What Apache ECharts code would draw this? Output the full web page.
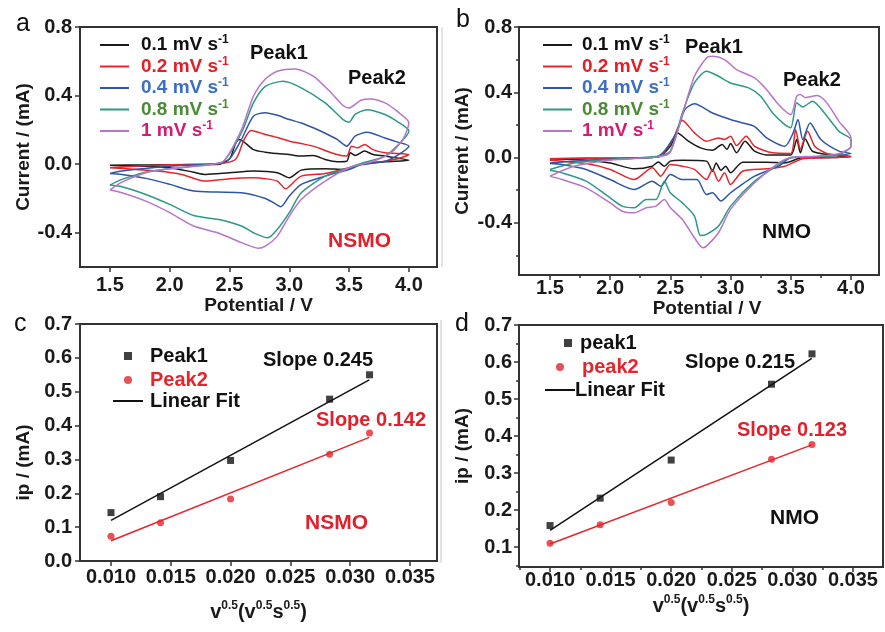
<!DOCTYPE html>
<html>
<head>
<meta charset="utf-8">
<script src="https://cdn.jsdelivr.net/npm/echarts@6/dist/echarts.min.js"></script>
<style>
  html, body { margin: 0; padding: 0; background: #fff; }
  #main { width: 885px; height: 632px; }
</style>
</head>
<body>
<div id="main"></div>
<script>
// scan rates (mV s-1) shared by panels a and b
var rates = ['0.1', '0.2', '0.4', '0.8', '1'];

// panel a, NSMO: [potential V, current mA], anodic sweep then cathodic sweep
var a01 = [[1.5,-0.006],[1.8,-0.005],[2.1,-0.003],[2.4,-0.002],[2.5,0.03],[2.55,0.12],[2.58,0.144],[2.62,0.13],[2.7,0.085],[2.8,0.07],[2.9,0.062],[3.0,0.056],[3.1,0.047],[3.2,0.05],[3.3,0.027],[3.4,0.014],[3.48,0.017],[3.51,0.066],[3.55,0.05],[3.63,0.076],[3.7,0.056],[3.8,0.047],[4.0,0.023],
  [3.8,0.014],[3.6,0.0],[3.45,-0.031],[3.3,-0.027],[3.1,-0.035],[3.0,-0.08],[2.9,-0.05],[2.7,-0.04],[2.5,-0.05],[2.3,-0.06],[2.2,-0.047],[2.0,-0.021],[1.8,-0.012],[1.5,-0.006]];
var a02 = [[1.5,-0.021],[1.7,-0.012],[2.0,-0.004],[2.4,0.002],[2.55,0.027],[2.62,0.14],[2.68,0.196],[2.8,0.173],[2.9,0.155],[3.0,0.134],[3.1,0.12],[3.2,0.105],[3.3,0.08],[3.4,0.056],[3.48,0.047],[3.52,0.105],[3.57,0.095],[3.63,0.115],[3.7,0.085],[3.8,0.066],[4.0,0.056],
  [3.9,0.03],[3.8,0.017],[3.6,0.0],[3.5,-0.021],[3.3,-0.054],[3.1,-0.07],[3.0,-0.13],[2.97,-0.144],[2.9,-0.099],[2.8,-0.085],[2.7,-0.08],[2.5,-0.085],[2.3,-0.099],[2.1,-0.06],[1.9,-0.04],[1.7,-0.03],[1.5,-0.021]];
var a04 = [[1.5,-0.054],[1.6,-0.04],[1.7,-0.031],[2.0,-0.012],[2.4,0.004],[2.5,0.03],[2.6,0.144],[2.7,0.28],[2.8,0.3],[2.9,0.285],[3.0,0.26],[3.1,0.24],[3.2,0.212],[3.3,0.18],[3.4,0.144],[3.48,0.105],[3.55,0.163],[3.65,0.186],[3.8,0.153],[3.9,0.13],[4.0,0.105],
  [3.9,0.05],[3.8,0.017],[3.6,-0.004],[3.5,-0.031],[3.3,-0.07],[3.1,-0.118],[3.0,-0.186],[2.93,-0.248],[2.88,-0.23],[2.8,-0.2],[2.6,-0.167],[2.4,-0.163],[2.2,-0.157],[2.0,-0.118],[1.8,-0.083],[1.6,-0.06],[1.5,-0.054]];
var a08 = [[1.5,-0.122],[1.6,-0.089],[1.8,-0.047],[2.0,-0.027],[2.3,-0.004],[2.45,0.017],[2.6,0.183],[2.7,0.357],[2.8,0.454],[2.95,0.483],[3.1,0.445],[3.3,0.357],[3.45,0.26],[3.5,0.245],[3.55,0.29],[3.65,0.318],[3.8,0.29],[3.9,0.25],[4.0,0.192],
  [3.9,0.105],[3.8,0.047],[3.6,0.004],[3.5,-0.021],[3.3,-0.07],[3.1,-0.167],[3.0,-0.283],[2.9,-0.38],[2.82,-0.43],[2.7,-0.4],[2.6,-0.361],[2.4,-0.322],[2.2,-0.3],[2.0,-0.235],[1.8,-0.177],[1.6,-0.132],[1.5,-0.122]];
var a10 = [[1.5,-0.151],[1.6,-0.105],[1.8,-0.05],[2.0,-0.027],[2.3,-0.006],[2.45,0.017],[2.6,0.202],[2.7,0.396],[2.8,0.497],[2.9,0.542],[3.05,0.555],[3.2,0.513],[3.35,0.416],[3.45,0.342],[3.5,0.328],[3.6,0.373],[3.68,0.38],[3.8,0.357],[3.9,0.309],[4.0,0.241],
  [3.95,0.144],[3.85,0.066],[3.7,0.017],[3.5,-0.021],[3.3,-0.099],[3.1,-0.206],[3.0,-0.303],[2.9,-0.42],[2.8,-0.478],[2.74,-0.49],[2.6,-0.458],[2.4,-0.4],[2.2,-0.361],[2.0,-0.283],[1.8,-0.216],[1.6,-0.167],[1.5,-0.151]];

// panel b, NMO
var b01 = [[1.5,-0.008],[1.8,-0.005],[2.1,-0.004],[2.4,0.004],[2.5,0.069],[2.56,0.151],[2.65,0.1],[2.75,0.059],[2.85,0.045],[2.93,0.08],[2.97,0.05],[3.0,0.086],[3.05,0.029],[3.12,0.1],[3.2,0.039],[3.3,0.016],[3.5,0.016],[3.55,0.11],[3.58,0.029],[3.62,0.114],[3.68,0.039],[3.8,0.018],[4.0,0.004],
  [3.8,0.0],[3.6,0.0],[3.45,-0.033],[3.3,-0.029],[3.1,-0.029],[3.0,-0.094],[2.96,-0.053],[2.92,-0.078],[2.88,-0.033],[2.85,-0.084],[2.8,-0.022],[2.6,-0.016],[2.5,-0.022],[2.45,-0.053],[2.4,-0.027],[2.35,-0.053],[2.2,-0.069],[2.0,-0.033],[1.8,-0.016],[1.5,-0.008]];
var b02 = [[1.5,-0.008],[1.8,-0.005],[2.1,-0.003],[2.4,0.004],[2.52,0.11],[2.6,0.229],[2.7,0.151],[2.8,0.1],[2.9,0.12],[2.95,0.11],[3.0,0.131],[3.05,0.073],[3.13,0.131],[3.2,0.069],[3.35,0.029],[3.5,0.025],[3.54,0.171],[3.58,0.053],[3.64,0.161],[3.7,0.069],[3.8,0.025],[4.0,0.008],
  [3.8,-0.002],[3.6,-0.008],[3.45,-0.053],[3.3,-0.069],[3.1,-0.084],[3.0,-0.165],[2.95,-0.094],[2.9,-0.145],[2.85,-0.073],[2.8,-0.135],[2.7,-0.073],[2.6,-0.053],[2.5,-0.043],[2.42,-0.114],[2.35,-0.063],[2.2,-0.135],[2.0,-0.073],[1.8,-0.037],[1.5,-0.016]];
var b04 = [[1.5,-0.033],[1.8,-0.016],[2.2,-0.004],[2.4,0.008],[2.55,0.151],[2.62,0.294],[2.7,0.33],[2.85,0.273],[3.0,0.233],[3.1,0.212],[3.2,0.19],[3.3,0.12],[3.45,0.069],[3.52,0.151],[3.56,0.233],[3.6,0.11],[3.66,0.212],[3.75,0.11],[3.9,0.039],[4.0,0.024],
  [3.7,0.004],[3.5,-0.002],[3.4,-0.053],[3.2,-0.114],[3.0,-0.216],[2.92,-0.267],[2.85,-0.216],[2.8,-0.227],[2.72,-0.135],[2.6,-0.135],[2.5,-0.104],[2.42,-0.176],[2.35,-0.145],[2.2,-0.196],[2.0,-0.135],[1.8,-0.073],[1.6,-0.043],[1.5,-0.037]];
var b08 = [[1.5,-0.073],[1.7,-0.033],[2.0,-0.012],[2.4,0.008],[2.5,0.039],[2.6,0.273],[2.7,0.457],[2.8,0.529],[2.9,0.498],[3.0,0.457],[3.15,0.427],[3.25,0.376],[3.35,0.273],[3.45,0.202],[3.5,0.182],[3.55,0.335],[3.6,0.31],[3.68,0.345],[3.78,0.273],[3.9,0.161],[4.0,0.11],
  [4.0,0.069],[3.9,0.018],[3.7,0.004],[3.5,0.0],[3.4,-0.043],[3.2,-0.145],[3.0,-0.298],[2.9,-0.42],[2.8,-0.471],[2.75,-0.478],[2.7,-0.359],[2.6,-0.278],[2.5,-0.216],[2.45,-0.145],[2.38,-0.257],[2.3,-0.257],[2.2,-0.308],[2.1,-0.298],[2.0,-0.247],[1.8,-0.145],[1.6,-0.094],[1.5,-0.078]];
var b10 = [[1.5,-0.114],[1.7,-0.053],[2.0,-0.016],[2.4,0.004],[2.5,0.033],[2.6,0.263],[2.7,0.498],[2.8,0.61],[2.85,0.62],[2.95,0.6],[3.05,0.539],[3.2,0.488],[3.3,0.416],[3.4,0.324],[3.5,0.263],[3.55,0.376],[3.58,0.386],[3.62,0.367],[3.72,0.38],[3.8,0.335],[3.9,0.222],[4.0,0.12],
  [4.0,0.069],[3.9,0.024],[3.7,0.008],[3.5,0.0],[3.4,-0.033],[3.2,-0.155],[3.0,-0.318],[2.9,-0.461],[2.8,-0.543],[2.77,-0.553],[2.7,-0.492],[2.6,-0.38],[2.5,-0.308],[2.45,-0.257],[2.38,-0.298],[2.3,-0.308],[2.2,-0.339],[2.1,-0.329],[2.0,-0.278],[1.8,-0.186],[1.6,-0.135],[1.5,-0.114]];

// panels c and d: peak current vs sqrt(scan rate)
var sqrtRate = [0.010, 0.01414, 0.020, 0.02828, 0.03162];
var cPeak1 = [0.143, 0.19, 0.297, 0.478, 0.55];
var cPeak2 = [0.073, 0.113, 0.183, 0.315, 0.378];
var dPeak1 = [0.158, 0.232, 0.335, 0.54, 0.622];
var dPeak2 = [0.11, 0.16, 0.22, 0.337, 0.377];
var fitX = [0.010, 0.0316];
var cFit1 = [0.12, 0.535];
var cFit2 = [0.06, 0.365];
var dFit1 = [0.145, 0.61];
var dFit2 = [0.108, 0.376];

// tick labels
var cvXTicks = [1.5, 2.0, 2.5, 3.0, 3.5, 4.0];
var cvXMinor = [1.75, 2.25, 2.75, 3.25, 3.75];
var cvYTicks = [-0.4, 0.0, 0.4, 0.8];
var cvYMinor = [-0.6, -0.2, 0.2, 0.6];
var ipXTicks = [0.010, 0.015, 0.020, 0.025, 0.030, 0.035];
var ipXMinor = [0.0075, 0.0125, 0.0175, 0.0225, 0.0275, 0.0325];
var cYTicks = [0.0, 0.1, 0.2, 0.3, 0.4, 0.5, 0.6, 0.7];
var dYTicks = [0.1, 0.2, 0.3, 0.4, 0.5, 0.6, 0.7];
var dYMinor = [0.05, 0.15, 0.25, 0.35, 0.45, 0.55, 0.65];

var cvData = { a: [a01, a02, a04, a08, a10], b: [b01, b02, b04, b08, b10] };
var lineColors = ['#1a1a1a', '#e4262c', '#2e55a6', '#2b9984', '#b874c9'];
var labelColors = ['#111111', '#e21f26', '#3c6ec4', '#4b8a36', '#d81b72'];
var FONT = '"Liberation Sans", Arial, sans-serif';

function zip(xs, ys) {
  return xs.map(function (x, i) { return [x, ys[i]]; });
}

function valueAxis(grid, pos, min, max, ticks, digits, margin) {
  return {
    type: 'value', gridIndex: grid, position: pos, min: min, max: max,
    splitLine: { show: false },
    axisLine: { show: true, onZero: false, lineStyle: { color: '#333', width: 2 } },
    axisTick: { show: true, inside: false, length: 5, customValues: ticks, lineStyle: { color: '#333', width: 1.5 } },
    axisLabel: {
      customValues: ticks, margin: margin, color: '#1a1a1a', fontSize: 20, fontWeight: 'bold', fontFamily: FONT,
      formatter: function (v) { return v.toFixed(digits); }
    }
  };
}

function minorAxis(grid, pos, min, max, ticks) {
  return {
    type: 'value', gridIndex: grid, position: pos, offset: 0, min: min, max: max,
    splitLine: { show: false },
    axisLine: { show: false, onZero: false },
    axisLabel: { show: false },
    axisTick: { show: true, length: 3, customValues: ticks, lineStyle: { color: '#333', width: 1.5 } }
  };
}

var nameStyle = { color: '#1a1a1a', fontSize: 19, fontWeight: 'bold', fontFamily: FONT };
var supName = '{b|v}{s|0.5}{b|(v}{s|0.5}{b|s}{s|0.5}{b|)}';
var supRich = {
  b: { fontSize: 20, fontWeight: 'bold', fontFamily: FONT, lineHeight: 24, color: '#1a1a1a' },
  s: { fontSize: 12, fontWeight: 'bold', fontFamily: FONT, verticalAlign: 'top', lineHeight: 24, color: '#1a1a1a' }
};

var xA = valueAxis(0, 'bottom', 1.25, 4.235, cvXTicks, 1, 8);
xA.name = 'Potential / V'; xA.nameLocation = 'middle'; xA.nameGap = 20; xA.nameTextStyle = nameStyle;
var xB = valueAxis(1, 'bottom', 1.243, 4.233, cvXTicks, 1, 3);
xB.name = 'Potential / V'; xB.nameLocation = 'middle'; xB.nameGap = 12;
xB.nameTextStyle = Object.assign({ padding: [0, 0, 0, 16] }, nameStyle);
var xC = valueAxis(2, 'bottom', 0.00741, 0.03726, ipXTicks, 3, 6);
xC.name = supName; xC.nameLocation = 'middle'; xC.nameGap = 39; xC.nameTextStyle = { rich: supRich };
var xD = valueAxis(3, 'bottom', 0.00744, 0.03748, ipXTicks, 3, 3);
xD.name = supName; xD.nameLocation = 'middle'; xD.nameGap = 27; xD.nameTextStyle = { rich: supRich };

var yA = valueAxis(0, 'left', -0.6, 0.8, cvYTicks, 1, 8);
yA.name = 'Current / (mA)'; yA.nameLocation = 'middle'; yA.nameGap = 47; yA.nameTextStyle = nameStyle;
var yB = valueAxis(1, 'left', -0.72, 0.8, cvYTicks, 1, 7);
yB.name = 'Current / (mA)'; yB.nameLocation = 'middle'; yB.nameGap = 47; yB.nameTextStyle = nameStyle;
var yC = valueAxis(2, 'left', 0, 0.7, cYTicks, 1, 8);
yC.name = 'ip / (mA)'; yC.nameLocation = 'middle'; yC.nameGap = 47;
yC.nameTextStyle = Object.assign({ padding: [0, 40, 0, 0] }, nameStyle);
var yD = valueAxis(3, 'left', 0.046, 0.7, dYTicks, 1, 7);
yD.name = 'ip / (mA)'; yD.nameLocation = 'middle'; yD.nameGap = 47; yD.nameTextStyle = nameStyle;

var series = [];
['a', 'b'].forEach(function (p, pi) {
  cvData[p].forEach(function (arr, i) {
    series.push({
      name: rates[i] + ' mV s-1', type: 'line', xAxisIndex: pi, yAxisIndex: pi,
      data: arr, showSymbol: false, smooth: 0.25, color: lineColors[i],
      lineStyle: { width: 1.5, color: lineColors[i] }, z: 2 + i
    });
  });
});

function ipSeries(axis, p1Name, p2Name, p1, p2, f1, f2) {
  return [
    { name: p1Name, type: 'scatter', xAxisIndex: axis, yAxisIndex: axis, data: zip(sqrtRate, p1),
      symbol: 'rect', symbolSize: 7, color: '#111', z: 5 },
    { name: p2Name, type: 'scatter', xAxisIndex: axis, yAxisIndex: axis, data: zip(sqrtRate, p2),
      symbol: 'circle', symbolSize: 7, color: '#e4262c', z: 5 },
    { name: 'Linear Fit', type: 'line', xAxisIndex: axis, yAxisIndex: axis, data: zip(fitX, f1),
      showSymbol: false, color: '#111', lineStyle: { width: 1.5, color: '#111' } },
    { name: 'Fit ' + p2Name, type: 'line', xAxisIndex: axis, yAxisIndex: axis, data: zip(fitX, f2),
      showSymbol: false, color: '#e4262c', lineStyle: { width: 1.5, color: '#e4262c' } }
  ];
}
series = series.concat(ipSeries(2, 'Peak1', 'Peak2', cPeak1, cPeak2, cFit1, cFit2));
series = series.concat(ipSeries(3, 'peak1', 'peak2', dPeak1, dPeak2, dFit1, dFit2));

var rateLegendText = {
  fontSize: 19, fontWeight: 'bold', fontFamily: FONT,
  rich: {
    t: { fontSize: 19, fontWeight: 'bold', fontFamily: FONT, lineHeight: 22 },
    s: { fontSize: 12, fontWeight: 'bold', fontFamily: FONT, verticalAlign: 'top', lineHeight: 22 }
  }
};
function rateLegend(left, top, pad) {
  return {
    left: left, top: top, orient: 'vertical', padding: 0, itemGap: 1,
    itemWidth: 29, itemHeight: 2, icon: 'rect', selectedMode: false,
    textStyle: Object.assign({ padding: [0, 0, 0, pad] }, rateLegendText),
    formatter: function (n) { return '{t|' + n.replace(' s-1', ' s') + '}{s|-1}'; },
    data: rates.map(function (r, i) {
      return { name: r + ' mV s-1', textStyle: { color: labelColors[i] } };
    })
  };
}
function oneLegend(name, left, top, icon, w, h, pad, color) {
  return {
    left: left, top: top, padding: 0, itemWidth: w, itemHeight: h, selectedMode: false,
    textStyle: { color: color, fontSize: 20, fontWeight: 'bold', fontFamily: FONT, lineHeight: 22, padding: [0, 0, 0, pad] },
    data: [{ name: name, icon: icon }]
  };
}

function note(x, cy, s, color, size, weight) {
  return {
    type: 'text', x: x, y: cy, z: 10,
    style: {
      text: s, fill: color, font: (weight || 'bold') + ' ' + (size || 20) + 'px ' + FONT,
      textAlign: 'left', textVerticalAlign: 'middle', align: 'left', verticalAlign: 'middle'
    }
  };
}

var option = {
  animation: false,
  backgroundColor: '#ffffff',
  grid: [
    { left: 80, top: 27, width: 357, height: 240, show: true, borderColor: '#333', borderWidth: 2 },
    { left: 519, top: 27, width: 360, height: 248, show: true, borderColor: '#333', borderWidth: 2 },
    { left: 80, top: 324, width: 357, height: 237, show: true, borderColor: '#333', borderWidth: 2 },
    { left: 519, top: 325, width: 364, height: 242, show: true, borderColor: '#333', borderWidth: 2 }
  ],
  xAxis: [xA, xB, xC, xD,
    minorAxis(1, 'bottom', 1.243, 4.233, cvXMinor),
    minorAxis(3, 'bottom', 0.00744, 0.03748, ipXMinor)],
  yAxis: [yA, yB, yC, yD,
    minorAxis(1, 'left', -0.72, 0.8, cvYMinor),
    minorAxis(3, 'left', 0.046, 0.7, dYMinor)],
  legend: [
    rateLegend(100, 34, 7),
    rateLegend(543, 34, 5),
    oneLegend('Peak1', 124, 345, 'rect', 8, 8, 13, '#111'),
    oneLegend('Peak2', 124, 369, 'circle', 8, 8, 13, '#e4262c'),
    oneLegend('Linear Fit', 113, 390, 'rect', 30, 2, 2, '#111'),
    oneLegend('peak1', 564, 332, 'rect', 8, 8, 3, '#111'),
    oneLegend('peak2', 556, 356, 'circle', 8, 8, 13, '#e4262c'),
    oneLegend('Linear Fit', 545, 379, 'rect', 30, 2, -5, '#111')
  ],
  graphic: [
    note(16, 24, 'a', '#111', 25, 'normal'),
    note(456, 20, 'b', '#111', 25, 'normal'),
    note(14, 324, 'c', '#111', 25, 'normal'),
    note(455, 324, 'd', '#111', 25, 'normal'),
    note(250, 53, 'Peak1', '#111'),
    note(348, 78, 'Peak2', '#111'),
    note(328, 241, 'NSMO', '#e0202a', 21),
    note(685, 47, 'Peak1', '#111'),
    note(783, 80, 'Peak2', '#111'),
    note(762, 232, 'NMO', '#111', 21),
    note(263, 360, 'Slope 0.245', '#111'),
    note(316, 420, 'Slope 0.142', '#e0202a'),
    note(305, 523, 'NSMO', '#e0202a', 21),
    note(685, 362, 'Slope 0.215', '#111'),
    note(737, 430, 'Slope 0.123', '#e0202a'),
    note(770, 518, 'NMO', '#111', 21),
    { type: 'line', shape: { x1: 442, y1: 27, x2: 442, y2: 267 }, style: { stroke: '#c8c8c8', lineWidth: 1 } },
    { type: 'line', shape: { x1: 441, y1: 320, x2: 441, y2: 563 }, style: { stroke: '#c8c8c8', lineWidth: 1 } }
  ],
  series: series
};

var chartDom = document.getElementById('main');
var myChart = echarts.init(chartDom);
myChart.setOption(option);
</script>
</body>
</html>
